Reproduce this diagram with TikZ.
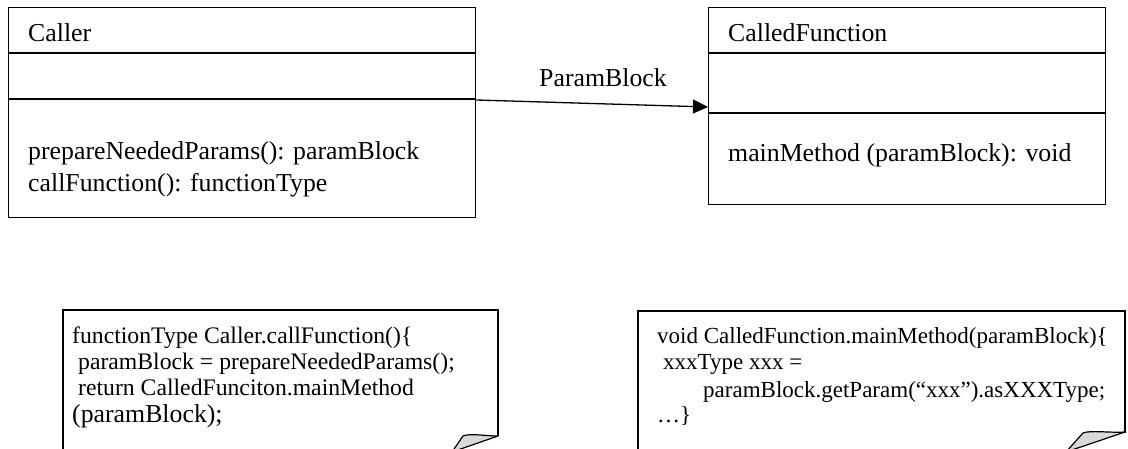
\documentclass[tikz,border=0pt]{standalone}
\usepackage{fontspec}
\setmainfont{Liberation Serif}
\usetikzlibrary{arrows.meta}
\begin{document}
\begin{tikzpicture}[x=1pt,y=-1pt,
  classbox/.style={draw, line width=1.3pt, anchor=north west, inner sep=0pt},
  divider/.style={line width=1.3pt},
  ctext/.style={anchor=base west, inner sep=0pt, font=\fontsize{25.8}{30}\selectfont},
  ntext/.style={anchor=base west, inner sep=0pt, font=\fontsize{23.7}{27}\selectfont},
  ntexttwo/.style={anchor=base west, inner sep=0pt, font=\fontsize{23}{27}\selectfont},
  notebox/.style={line width=1.4pt, line join=miter},
  flap/.style={draw, fill=gray!30, line width=1.2pt, line join=round},
  assoc/.style={line width=1.3pt, -{Triangle[length=15pt,width=14pt]}}]
\useasboundingbox (0,0) rectangle (1128,449);

% Caller class
\node[classbox, minimum width=467pt, minimum height=210pt] (caller) at (8,7) {};
\draw[divider] (caller.north west) ++(0,46) -- ++(467,0);
\draw[divider] (caller.north west) ++(0,92) -- ++(467,0);
\node[ctext] (callerT) at (28,42) {Caller};
\node[ctext] (callerM1) at (28,160) {prepareNeededParams(): paramBlock};
\node[ctext] (callerM2) at (28,192) {callFunction(): functionType};

% CalledFunction class
\node[classbox, minimum width=397pt, minimum height=197pt] (called) at (708,7) {};
\draw[divider] (called.north west) ++(0,46) -- ++(397,0);
\draw[divider] (called.north west) ++(0,106) -- ++(397,0);
\node[ctext] (calledT) at (728,42) {CalledFunction};
\node[ctext] (calledM) at (728,162) {mainMethod (paramBlock): void};

% association
\path (caller.north east) ++(0,93) coordinate (a);
\path (called.north west) ++(0,100) coordinate (b);
\draw[assoc] (a) -- (b);
\node[ctext, anchor=base] (lbl) at (603,87) {ParamBlock};

% Note 1
\draw[notebox] (63,452) -- (63,310) -- (498,310) -- (498,436);
\draw[flap] (463,436) .. controls (470,433) and (485,436) .. (498,436) -- (452,452) -- cycle;
\node[ntext] (n1a) at (72,343) {functionType Caller.callFunction()\{};
\node[ntext] (n1b) at (78,369) {paramBlock = prepareNeededParams();};
\node[ntext] (n1c) at (78,395) {return CalledFunciton.mainMethod};
\node[ctext] (n1d) at (72,422) {(paramBlock);};

% Note 2
\draw[notebox] (638,452) -- (638,311) -- (1125,311) -- (1125,433);
\draw[flap] (1083,433) .. controls (1090,430) and (1110,433) .. (1125,432) -- (1066,452) -- cycle;
\node[ntexttwo] (n2a) at (657,343) {void CalledFunction.mainMethod(paramBlock)\{};
\node[ntexttwo] (n2b) at (663,370) {xxxType xxx =};
\node[ntexttwo] (n2c) at (703,397) {paramBlock.getParam(“xxx”).asXXXType;};
\node[ntexttwo] (n2d) at (657,422) {…\}};
\end{tikzpicture}
\end{document}
